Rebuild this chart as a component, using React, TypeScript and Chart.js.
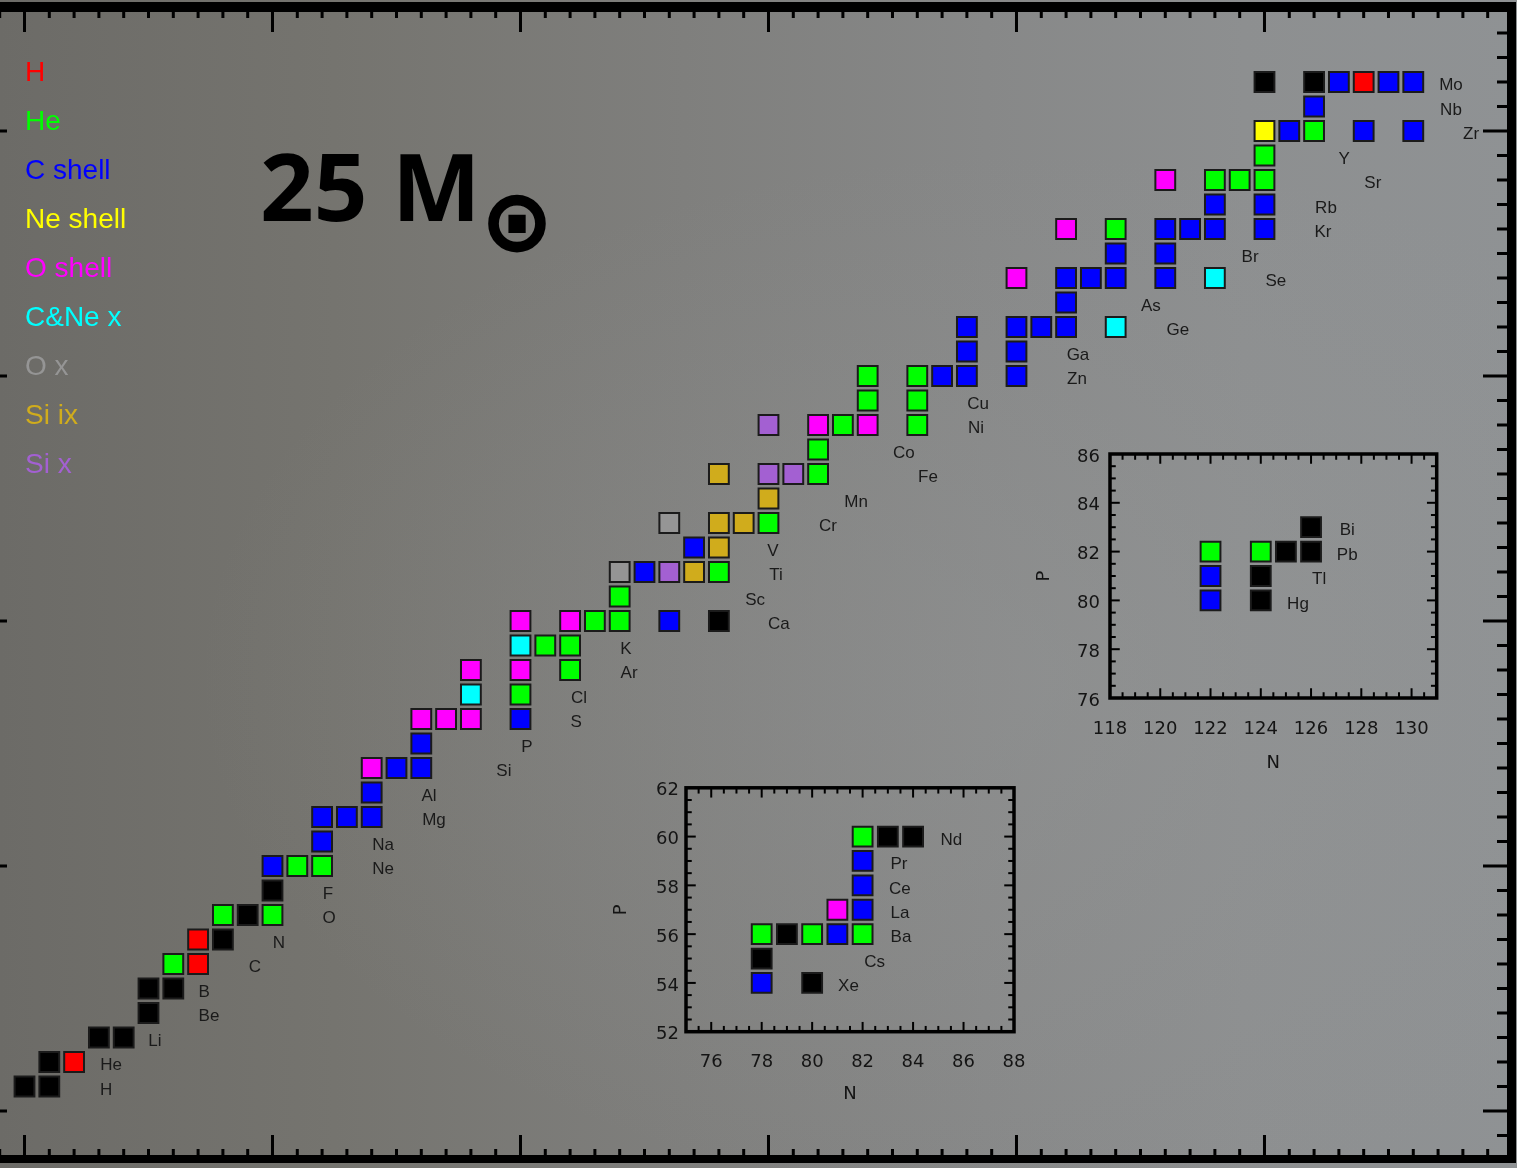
import { useEffect, useRef } from 'react';
import { Chart, registerables } from 'chart.js';

Chart.register(...registerables);

type Nuclide = [number, number]; // [N, Z]

// Stable isotopes, grouped by the site that makes them
const noSite: Nuclide[] = [
  [0, 1], [1, 1], [1, 2], [3, 3], [4, 3], [5, 4], [5, 5], [6, 5], [8, 7], [9, 8], [10, 9],
  [28, 20], [50, 42], [52, 42],
  [78, 55], [79, 56], [80, 54], [83, 60], [84, 60],
  [124, 80], [124, 81], [125, 82], [126, 82], [126, 83],
];
const hBurning: Nuclide[] = [[2, 2], [7, 6], [7, 7], [54, 42]];
const heBurning: Nuclide[] = [
  [6, 6], [8, 8], [10, 8], [11, 10], [12, 10], [20, 17], [22, 18], [21, 19], [22, 19],
  [23, 20], [24, 20], [24, 21], [28, 22], [30, 24], [32, 26], [32, 27], [33, 28], [36, 28],
  [34, 29], [36, 29], [34, 30], [36, 30], [44, 36], [48, 38], [49, 38], [50, 38], [50, 39], [52, 40],
  [78, 56], [80, 56], [82, 56], [82, 60], [122, 82], [124, 82],
];
const cShell: Nuclide[] = [
  [10, 10], [12, 11], [12, 12], [13, 12], [14, 12], [14, 13], [15, 14], [16, 14], [16, 15], [20, 16],
  [26, 20], [25, 22], [27, 23], [37, 30], [38, 30], [40, 30], [38, 31], [40, 31],
  [38, 32], [40, 32], [41, 32], [42, 32], [42, 33], [42, 34], [43, 34], [44, 34], [46, 34],
  [44, 35], [46, 35], [46, 36], [47, 36], [48, 36], [50, 36], [48, 37], [50, 37],
  [51, 40], [54, 40], [56, 40], [52, 41], [53, 42], [55, 42], [56, 42],
  [78, 54], [81, 56], [82, 57], [82, 58], [82, 59], [122, 80], [122, 81],
];
const neShell: Nuclide[] = [[50, 40]];
const oShell: Nuclide[] = [
  [14, 14], [16, 16], [17, 16], [18, 16], [18, 18], [20, 18], [20, 20], [22, 20],
  [32, 28], [34, 28], [40, 34], [42, 36], [46, 38], [81, 57],
];
const cNeExplosive: Nuclide[] = [[18, 17], [20, 19], [44, 32], [48, 34]];
const oExplosive: Nuclide[] = [[24, 22], [26, 24]];
const siIncomplete: Nuclide[] = [[27, 22], [28, 23], [28, 24], [29, 24], [30, 25], [28, 26]];
const siExplosive: Nuclide[] = [[26, 22], [30, 26], [31, 26], [30, 28]];

// Element symbols, Z = index + 1, with the N at which each name is written
const elementSymbols = [
  'H', 'He', 'Li', 'Be', 'B', 'C', 'N', 'O', 'F', 'Ne', 'Na', 'Mg', 'Al', 'Si', 'P', 'S', 'Cl', 'Ar',
  'K', 'Ca', 'Sc', 'Ti', 'V', 'Cr', 'Mn', 'Fe', 'Co', 'Ni', 'Cu', 'Zn', 'Ga', 'Ge', 'As', 'Se', 'Br',
  'Kr', 'Rb', 'Sr', 'Y', 'Zr', 'Nb', 'Mo',
];
const symbolN = [
  3.29, 3.49, 5.26, 7.44, 7.24, 9.29, 10.26, 12.28, 12.24, 14.46, 14.46, 16.51, 16.31, 19.33, 20.26,
  22.24, 22.36, 24.38, 24.25, 30.42, 29.46, 30.3, 30.18, 32.4, 33.53, 36.43, 35.46, 38.37, 38.45,
  42.44, 42.48, 46.51, 45.42, 50.46, 49.42, 52.36, 52.48, 54.37, 53.21, 58.33, 57.52, 57.52,
];
const leadSymbols: [string, number, number][] = [
  ['Hg', 80, 125.48], ['Tl', 81, 126.32], ['Pb', 82, 127.44], ['Bi', 83, 127.44],
];
const bariumSymbols: [string, number, number][] = [
  ['Xe', 54, 81.44], ['Cs', 55, 82.48], ['Ba', 56, 83.52], ['La', 57, 83.48],
  ['Ce', 58, 83.48], ['Pr', 59, 83.44], ['Nd', 60, 85.52],
];

// Axis tick values of the two close-up panels
const leadTicksN = [118, 120, 122, 124, 126, 128, 130];
const leadTicksP = [76, 78, 80, 82, 84, 86];
const bariumTicksN = [76, 78, 80, 82, 84, 86, 88];
const bariumTicksP = [52, 54, 56, 58, 60, 62];

const SERIES = [
  { name: 'H', color: '#ff0000', points: hBurning },
  { name: 'He', color: '#00ff00', points: heBurning },
  { name: 'C shell', color: '#0000ff', points: cShell },
  { name: 'Ne shell', color: '#ffff00', points: neShell },
  { name: 'O shell', color: '#ff00ff', points: oShell },
  { name: 'C&Ne x', color: '#00ffff', points: cNeExplosive },
  { name: 'O x', color: '#959595', points: oExplosive },
  { name: 'Si ix', color: '#d0ac1c', points: siIncomplete },
  { name: 'Si x', color: '#a360d2', points: siExplosive },
];
const ALL_SERIES = [{ name: 'other', color: '#000000', points: noSite }, ...SERIES];

const LABEL_FONT = '17px "Liberation Sans", Arial, sans-serif';
const TICK_FONT = { family: '"DejaVu Sans", sans-serif', size: 18 };
const INK = '#141414';

function squares(keep: (p: Nuclide) => boolean) {
  return ALL_SERIES.map((s) => ({
    label: s.name,
    data: s.points.filter(keep).map(([n, z]) => ({ x: n, y: z })),
    pointStyle: 'rect' as const,
    pointRadius: 14,
    pointHoverRadius: 14,
    backgroundColor: s.color,
    pointBackgroundColor: s.color,
    borderColor: '#1b1b1b',
    pointBorderColor: '#1b1b1b',
    borderWidth: 2,
    pointBorderWidth: 2,
    showLine: false,
  }));
}

function labelPlugin(items: [string, number, number][]) {
  return {
    id: 'elementLabels',
    afterDatasetsDraw(chart: any) {
      const { ctx, scales } = chart;
      ctx.save();
      ctx.font = LABEL_FONT;
      ctx.fillStyle = '#1a1a1a';
      ctx.textAlign = 'center';
      ctx.textBaseline = 'middle';
      for (const [sym, z, n] of items) {
        ctx.fillText(sym, scales.x.getPixelForValue(n), scales.y.getPixelForValue(z) + 3.5);
      }
      ctx.restore();
    },
  };
}

type FrameCfg = {
  band?: number[]; // outward thickness: top, right, bottom, left
  line?: number;
  majorX: number; minorX: number; majorY: number; minorY: number;
  lenX: [number, number]; lenY: [number, number]; tickW: number;
};

function framePlugin(cfg: FrameCfg) {
  return {
    id: 'frameTicks',
    beforeDatasetsDraw(chart: any) {
      const { ctx, chartArea: a, scales } = chart;
      const x = scales.x, y = scales.y;
      ctx.save();
      ctx.fillStyle = '#000';
      ctx.strokeStyle = '#000';
      let inset = 0;
      if (cfg.band) {
        const [t, r, b, l] = cfg.band;
        ctx.fillRect(a.left - l, a.top - t, a.width + l + r, t);
        ctx.fillRect(a.left - l, a.bottom, a.width + l + r, b);
        ctx.fillRect(a.left - l, a.top - t, l, a.height + t + b);
        ctx.fillRect(a.right, a.top - t, r, a.height + t + b);
      } else if (cfg.line) {
        ctx.lineWidth = cfg.line;
        ctx.strokeRect(a.left, a.top, a.width, a.height);
        inset = cfg.line / 2;
      }
      const isMajor = (v: number, step: number) => Math.abs(v / step - Math.round(v / step)) < 1e-6;
      const hw = cfg.tickW / 2;
      for (let k = Math.ceil(x.min / cfg.minorX - 1e-9); k * cfg.minorX <= x.max + 1e-9; k++) {
        const v = k * cfg.minorX;
        const px = x.getPixelForValue(v);
        const len = (isMajor(v, cfg.majorX) ? cfg.lenX[0] : cfg.lenX[1]) + inset;
        ctx.fillRect(px - hw, a.bottom - len, cfg.tickW, len);
        ctx.fillRect(px - hw, a.top, cfg.tickW, len);
      }
      for (let k = Math.ceil(y.min / cfg.minorY - 1e-9); k * cfg.minorY <= y.max + 1e-9; k++) {
        const v = k * cfg.minorY;
        const py = y.getPixelForValue(v);
        const len = (isMajor(v, cfg.majorY) ? cfg.lenY[0] : cfg.lenY[1]) + inset;
        ctx.fillRect(a.left, py - hw, len, cfg.tickW);
        ctx.fillRect(a.right - len, py - hw, len, cfg.tickW);
      }
      ctx.restore();
    },
  };
}

function insetChart(
  canvas: HTMLCanvasElement,
  nRange: [number, number], pRange: [number, number],
  ticksN: number[], ticksP: number[], names: [string, number, number][],
  lay: { top: number; right: number; axisW: number; axisH: number; padX: number; padY: number; titleP: number; titleN: number },
) {
  return new Chart(canvas, {
    type: 'scatter',
    data: { datasets: squares(([n]) => n >= nRange[0] && n <= nRange[1]) as any },
    options: {
      animation: false,
      responsive: false,
      events: [],
      layout: { autoPadding: false, padding: { left: 0, top: lay.top, right: lay.right, bottom: 0 } },
      scales: {
        x: {
          type: 'linear', min: nRange[0], max: nRange[1],
          afterBuildTicks: (s: any) => { s.ticks = ticksN.map((v) => ({ value: v })); },
          afterFit: (s: any) => { s.height = lay.axisH; },
          grid: { display: false, drawTicks: false },
          border: { display: false },
          ticks: { padding: lay.padX, color: INK, font: TICK_FONT, maxRotation: 0, autoSkip: false },
          title: { display: true, text: 'N', color: INK, font: TICK_FONT, padding: { top: 0, bottom: lay.titleN } },
        },
        y: {
          type: 'linear', min: pRange[0], max: pRange[1],
          afterBuildTicks: (s: any) => { s.ticks = ticksP.map((v) => ({ value: v })); },
          afterFit: (s: any) => { s.width = lay.axisW; },
          grid: { display: false, drawTicks: false },
          border: { display: false },
          ticks: { padding: lay.padY, color: INK, font: TICK_FONT, autoSkip: false, labelOffset: 3 },
          title: { display: true, text: 'P', color: INK, font: TICK_FONT, padding: { top: lay.titleP, bottom: 0 } },
        },
      },
      plugins: { legend: { display: false }, tooltip: { enabled: false } },
    },
    plugins: [
      framePlugin({ line: 3.5, majorX: 2, minorX: 0.5, majorY: 2, minorY: 0.5, lenX: [8, 4], lenY: [8, 4], tickW: 2 }),
      labelPlugin(names),
    ],
  });
}

export default function App() {
  const mainRef = useRef<HTMLCanvasElement>(null);
  const leadRef = useRef<HTMLCanvasElement>(null);
  const bariumRef = useRef<HTMLCanvasElement>(null);

  useEffect(() => {
    const main = new Chart(mainRef.current!, {
      type: 'scatter',
      data: { datasets: squares(([n]) => n <= 60) as any },
      options: {
        animation: false,
        responsive: false,
        events: [],
        layout: { autoPadding: false, padding: { left: 23, right: 10, top: 12, bottom: 13 } },
        scales: {
          x: { type: 'linear', display: false, min: -1.6734, max: 59.779 },
          y: { type: 'linear', display: false, min: -1.796, max: 44.857 },
        },
        plugins: { legend: { display: false }, tooltip: { enabled: false } },
      },
      plugins: [
        framePlugin({ band: [10, 9, 8, 10], majorX: 10, minorX: 1, majorY: 10, minorY: 1, lenX: [20, 6], lenY: [24, 10], tickW: 3 }),
        labelPlugin(elementSymbols.map((s, i) => [s, i + 1, symbolN[i]] as [string, number, number])),
      ],
    });
    const lead = insetChart(leadRef.current!, [118, 131], [76, 86], leadTicksN, leadTicksP, leadSymbols,
      { top: 24, right: 23.3, axisW: 90, axisH: 82, padX: 21, padY: 10, titleP: 14, titleN: 6 });
    const barium = insetChart(bariumRef.current!, [75, 88], [52, 62], bariumTicksN, bariumTicksP, bariumSymbols,
      { top: 15, right: 36, axisW: 86, axisH: 83.3, padX: 19.5, padY: 7, titleP: 11, titleN: 10 });
    return () => { main.destroy(); lead.destroy(); barium.destroy(); };
  }, []);

  return (
    <div
      style={{
        position: 'absolute', left: 0, top: 0, width: 1517, height: 1168, overflow: 'hidden',
        background:
          'radial-gradient(ellipse 55% 45% at 68% 58%, rgba(150,152,152,0.35) 0%, rgba(150,152,152,0) 100%),' +
          'linear-gradient(90deg, #6c6b67 0%, #75746f 22%, #7f7f7d 45%, #878888 65%, #8d8f90 82%, #8f9294 100%)',
      }}
    >
      <canvas ref={mainRef} width={1557} height={1168} style={{ position: 'absolute', left: -40, top: 0, width: 1557, height: 1168 }} />
      <canvas ref={leadRef} width={440} height={350} style={{ position: 'absolute', left: 1020, top: 430, width: 440, height: 350 }} />
      <canvas ref={bariumRef} width={450} height={345} style={{ position: 'absolute', left: 600, top: 770, width: 450, height: 345 }} />
      {SERIES.map((s, i) => (
        <div
          key={s.name}
          style={{
            position: 'absolute', left: 25, top: 55.7 + i * 49, height: 30, lineHeight: '30px',
            font: '28px "Liberation Sans", Arial, sans-serif', color: s.color, whiteSpace: 'nowrap',
          }}
        >
          {s.name}
        </div>
      ))}
      <div
        style={{
          position: 'absolute', left: 260, top: 120.5, lineHeight: 1, whiteSpace: 'nowrap',
          font: '700 94px "Open Sans", sans-serif', letterSpacing: '0px', color: '#000',
        }}
      >
        25 M
      </div>
      <div
        style={{
          position: 'absolute', left: 467, top: 171, width: 100, height: 100, display: 'flex',
          alignItems: 'center', justifyContent: 'center', lineHeight: 1,
          font: '700 84px "DejaVu Sans", sans-serif', color: '#000', WebkitTextStroke: '2.5px #000',
        }}
      >
        ⊙
      </div>
    </div>
  );
}
